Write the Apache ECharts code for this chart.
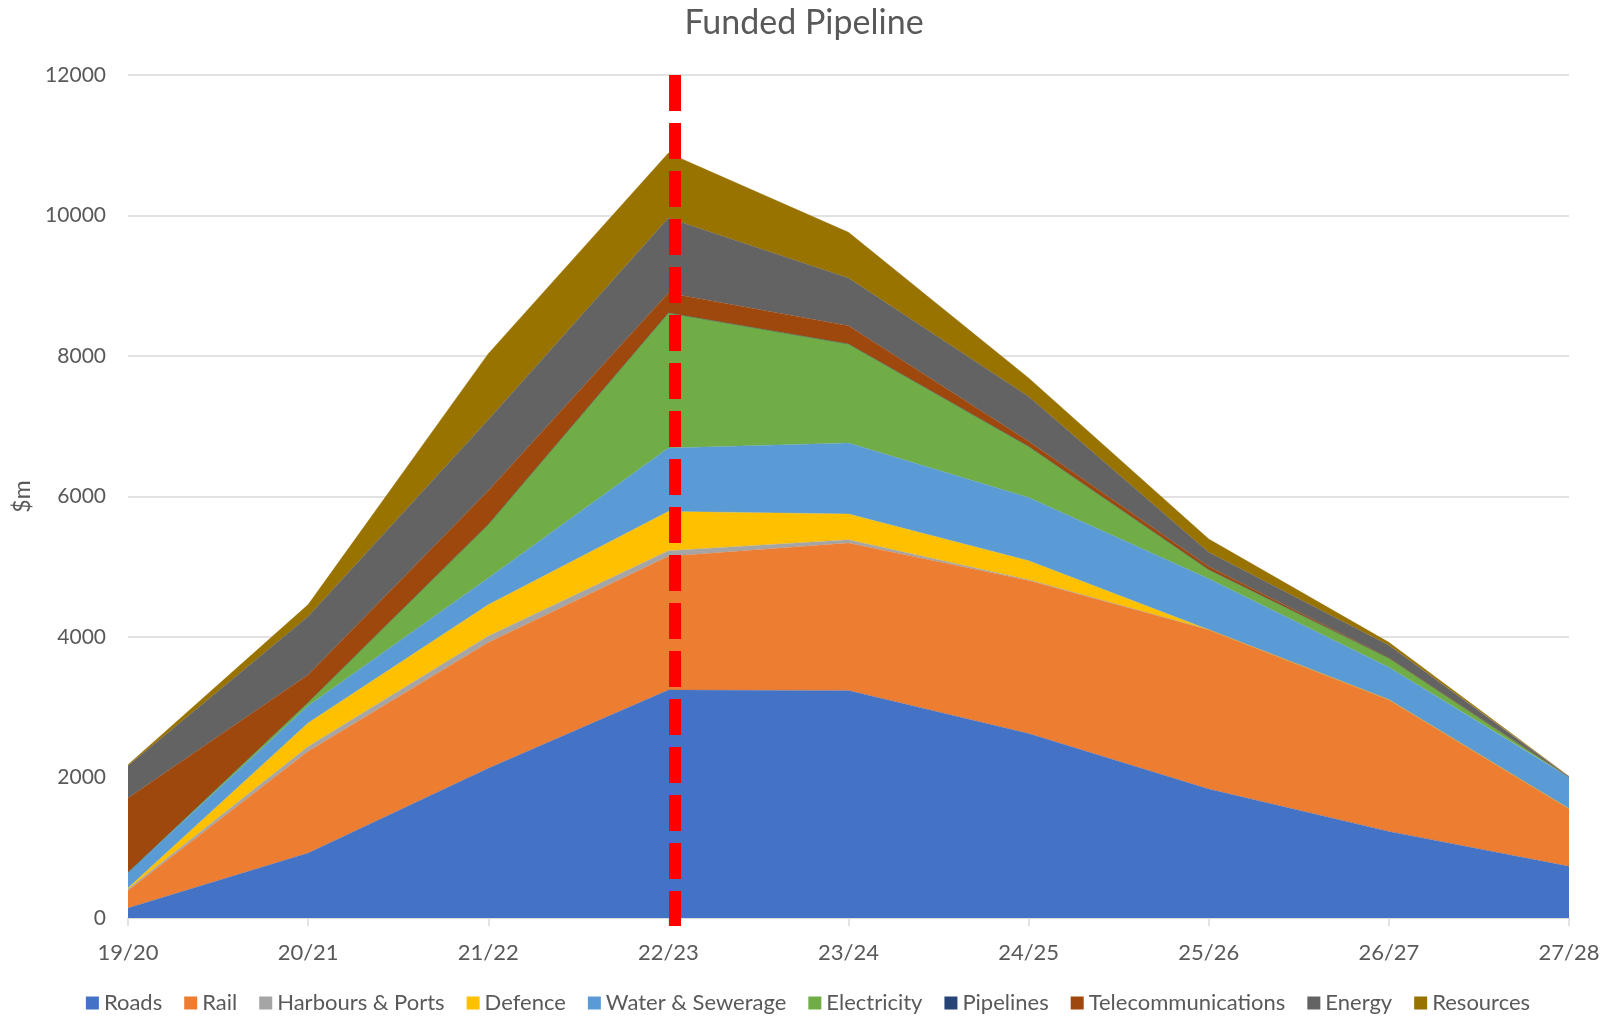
<!DOCTYPE html>
<html><head><meta charset="utf-8">
<script src="https://cdn.jsdelivr.net/npm/echarts@6/dist/echarts.min.js"></script>
<style>html,body{margin:0;padding:0;background:#fff}#c{width:1616px;height:1016px}</style>
</head><body><div id="c"></div>
<script>
const categories = ['19/20','20/21','21/22','22/23','23/24','24/25','25/26','26/27','27/28'];
const seriesNames = ['Roads','Rail','Harbours & Ports','Defence','Water & Sewerage','Electricity','Pipelines','Telecommunications','Energy','Resources'];
const roads       = [142, 925, 2130, 3245, 3240, 2626, 1836, 1233, 735];
const rail        = [251, 1447, 1793, 1903, 2098, 2180, 2268, 1875, 821];
const harbours    = [20, 70, 90, 80, 47, 10, 0, 0, 0];
const defence     = [14, 334, 447, 560, 366, 270, 0, 0, 0];
const water       = [222, 246, 380, 902, 1011, 901, 726, 460, 446];
const electricity = [0, 47, 760, 1922, 1409, 726, 128, 133, 5];
const pipelines   = [0, 0, 0, 0, 0, 0, 0, 0, 0];
const telecom     = [1059, 394, 482, 285, 260, 72, 47, 4, 0];
const energy      = [460, 830, 1012, 1067, 679, 640, 200, 176, 5];
const resources   = [15, 168, 939, 926, 650, 262, 190, 43, 5];
const yTicks = [0, 2000, 4000, 6000, 8000, 10000, 12000];
const dividerX = 3.037;   // position of the red dashed marker (category index units)
const dividerSpan = [12000, -115];

const colors = ['#4472C4','#ED7D31','#A5A5A5','#FFC000','#5B9BD5','#70AD47','#264478','#9E480E','#636363','#997300'];
const values = [roads, rail, harbours, defence, water, electricity, pipelines, telecom, energy, resources];
const FONT = 'Lato';

const chart = echarts.init(document.getElementById('c'), null, {renderer:'canvas'});
const series = values.map((v, i) => ({
  name: seriesNames[i], type: 'line', stack: 'total', data: v,
  xAxisIndex: 0, yAxisIndex: 0,
  showSymbol: false, symbol: 'none',
  lineStyle: {width: 0.6, color: colors[i], opacity: 0.6},
  itemStyle: {color: colors[i]},
  areaStyle: {color: colors[i], opacity: 1},
  emphasis: {disabled: true}
}));
series.push({
  name: 'divider', type: 'line', xAxisIndex: 1, yAxisIndex: 0,
  data: dividerSpan.map(y => [dividerX, y]),
  showSymbol: false, symbol: 'none', clip: false, silent: true, z: 10,
  lineStyle: {color: '#FF0000', width: 12, type: [36, 12], cap: 'butt'}
});

chart.setOption({
  animation: false,
  backgroundColor: '#fff',
  color: colors,
  title: {text: 'Funded Pipeline', left: 799, textAlign: 'center', top: 1,
    textStyle: {fontFamily: FONT, fontSize: 34, fontWeight: 'normal', color: '#595959'}},
  legend: {data: seriesNames, top: 991, left: 'center', padding: 0, icon: 'rect', itemWidth: 13, itemHeight: 13, itemGap: 22,
    textStyle: {fontFamily: FONT, fontSize: 22, color: '#595959', lineHeight: 24}},
  grid: {left: 128, right: 47, top: 75, bottom: 98, containLabel: false},
  xAxis: [{
    type: 'category', data: categories, boundaryGap: false,
    axisLine: {lineStyle: {color: '#D9D9D9', width: 1.5}},
    axisTick: {show: true, length: 8, alignWithLabel: true, lineStyle: {color: '#D9D9D9', width: 1.5}},
    axisLabel: {fontFamily: FONT, fontSize: 22, color: '#595959', margin: 24},
    splitLine: {show: false}
  },{
    type: 'value', min: 0, max: 8, show: false
  }],
  yAxis: {
    type: 'value', min: yTicks[0], max: yTicks[yTicks.length-1], interval: 2000,
    name: '$m', nameLocation: 'middle', nameGap: 83, nameRotate: 90,
    nameTextStyle: {fontFamily: FONT, fontSize: 23, color: '#595959'},
    axisLine: {show: false}, axisTick: {show: false},
    axisLabel: {fontFamily: FONT, fontSize: 21, color: '#595959', margin: 22, formatter: v => String(v)},
    splitLine: {lineStyle: {color: '#D9D9D9', width: 1.5}}
  },
  series: series
});
</script></body></html>
